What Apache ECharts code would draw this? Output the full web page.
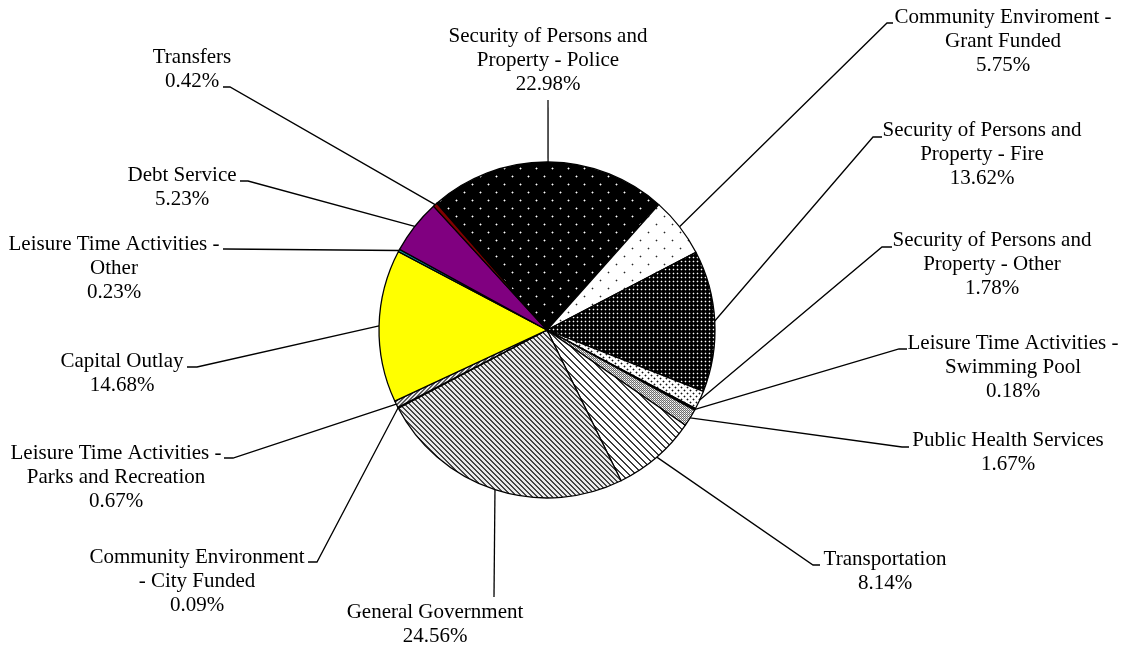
<!DOCTYPE html>
<html>
<head>
<meta charset="utf-8">
<script src="https://cdn.jsdelivr.net/npm/echarts@6/dist/echarts.min.js"></script>
<style>
  html, body { margin: 0; padding: 0; background: #fff; }
  #chart { width: 1123px; height: 646px; }
</style>
</head>
<body>
<div id="chart"></div>
<script>
// categories, clockwise from the top
var categories = [
  "Security of Persons and\nProperty - Police",
  "Community Enviroment -\nGrant Funded",
  "Security of Persons and\nProperty - Fire",
  "Security of Persons and\nProperty - Other",
  "Leisure Time Activities -\nSwimming Pool",
  "Public Health Services",
  "Transportation",
  "General Government",
  "Community Environment\n- City Funded",
  "Leisure Time Activities -\nParks and Recreation",
  "Capital Outlay",
  "Leisure Time Activities -\nOther",
  "Debt Service",
  "Transfers"
];
var shares = [22.98, 5.75, 13.62, 1.78, 0.18, 1.67, 8.14, 24.56, 0.09, 0.67, 14.68, 0.23, 5.23, 0.42];

// label placement: [text centre x, first line centre y]
var labelSpots = [
  [548, 36], [1003, 17], [982, 130], [992, 240], [1013, 343], [1008, 440], [885, 559],
  [435, 612], [197, 557], [116, 453], [122, 361], [114, 244], [182, 175], [192, 57]
];
// leader hooks: [elbow x, end x, y]
var hooks = [
  [548, 548, 100], [887, 893, 23], [873, 882, 137], [882, 892, 247], [899, 907, 349],
  [902, 909, 447], [813, 820, 565], [494, 494, 597], [317, 308, 562], [233, 224, 458],
  [197, 187, 367], [225, 223, 249], [248, 240, 181], [230, 223, 87]
];

var cx = 547, cy = 330, R = 168, startAngle = 131, lineH = 24.3;

function pixelTile(n, fn) {
  var c = document.createElement("canvas");
  c.width = c.height = n;
  var ctx = c.getContext("2d"),
    img = ctx.createImageData(n, n);
  for (var y = 0; y < n; y++) {
    for (var x = 0; x < n; x++) {
      var v = fn(x, y), k = (y * n + x) * 4;
      img.data[k] = img.data[k + 1] = img.data[k + 2] = v;
      img.data[k + 3] = 255;
    }
  }
  ctx.putImageData(img, 0, 0);
  return { image: c, repeat: "repeat" };
}

function dotted(n, bg, fg, halo, pts) {
  return pixelTile(n, function(x, y) {
    for (var i = 0; i < pts.length; i++) {
      var dx = Math.min(Math.abs(x - pts[i][0]), n - Math.abs(x - pts[i][0]));
      var dy = Math.min(Math.abs(y - pts[i][1]), n - Math.abs(y - pts[i][1]));
      if (dx + dy === 0) return fg;
      if (dx + dy === 1) return halo;
    }
    return bg;
  });
}

function stripes(n, dir, dark, light, w) {
  return pixelTile(n, function(x, y) {
    var t = (((dir > 0 ? x - y : x + y) % n) + n) % n;
    return t < w ? dark : light;
  });
}

var fills = [
  dotted(16, 0, 255, 110, [[0, 0], [8, 8]]),
  dotted(16, 255, 40, 190, [[0, 0], [8, 8]]),
  dotted(4, 0, 255, 70, [[1, 1]]),
  dotted(6, 255, 20, 170, [[0, 0], [3, 3]]),
  "#000000",
  pixelTile(4, function(x, y) { return (x + y) % 2 === 0 ? 110 : (x % 2 === 0 ? 255 : 200); }),
  stripes(7, 1, 60, 255, 2),
  stripes(5, 1, 70, 235, 2),
  "#ffffff",
  stripes(4, -1, 90, 230, 2),
  "#ffff00",
  "#009999",
  "#800080",
  "#800000"
];

function edgePoint(i) {
  var total = 0, before = 0;
  shares.forEach(function(v, j) {
    total += v;
    if (j < i) before += v;
  });
  var mid = ((before + shares[i] / 2) / total) * 360;
  var a = ((startAngle - mid) * Math.PI) / 180;
  return [cx + R * Math.cos(a), cy - R * Math.sin(a)];
}

var chart = echarts.init(document.getElementById("chart"));

var data = categories.map(function(name, i) {
  return {
    name: name,
    value: shares[i],
    itemStyle: { color: fills[i] }
  };
});

chart.setOption({
  animation: false,
  backgroundColor: "#fff",
  series: [
    {
      type: "pie",
      center: [cx, cy],
      radius: R,
      startAngle: startAngle,
      clockwise: true,
      avoidLabelOverlap: false,
      emphasis: { disabled: true },
      itemStyle: { borderColor: "#000", borderWidth: 1.3 },
      label: {
        show: true,
        position: "outside",
        color: "#000",
        fontFamily: "'Liberation Serif', 'Times New Roman', serif",
        fontSize: 21,
        lineHeight: lineH,
        align: "center",
        formatter: function(p) {
          return p.name + "\n" + p.value.toFixed(2) + "%";
        }
      },
      labelLine: {
        show: true,
        length: 10,
        length2: 10,
        lineStyle: { color: "#000", width: 1.3 }
      },
      labelLayout: function(p) {
        var i = p.dataIndex,
          s = labelSpots[i],
          h = hooks[i];
        return {
          x: s[0],
          y: s[1] - lineH / 2,
          align: "center",
          verticalAlign: "top",
          labelLinePoints: [edgePoint(i), [h[0], h[2]], [h[1], h[2]]]
        };
      },
      data: data
    }
  ]
});
</script>
</body>
</html>
